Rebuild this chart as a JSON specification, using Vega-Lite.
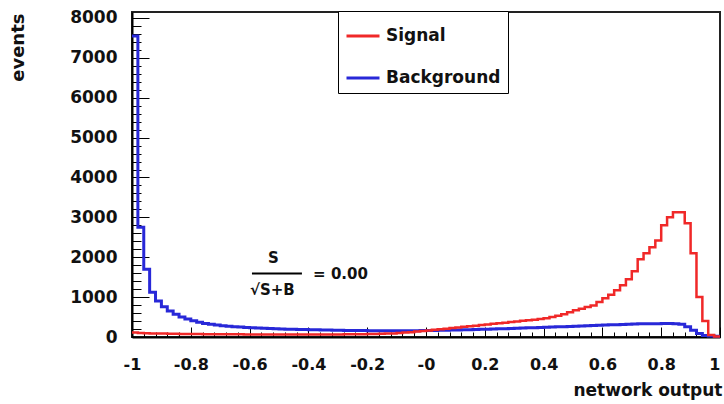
{
  "$schema": "https://vega.github.io/schema/vega-lite/v6.json",
  "width": 588,
  "height": 325,
  "autosize": {"type": "none"},
  "padding": {"left": 132, "top": 12, "right": 4, "bottom": 67},
  "background": "white",
  "config": {
    "view": {"stroke": "#222", "strokeWidth": 2},
    "font": "DejaVu Sans",
    "axis": {"grid": false}
  },
  "datasets": {
    "bins": [
      {"lo": -1, "hi": -0.98, "sig": 110, "bkg": 7550},
      {"lo": -0.98, "hi": -0.96, "sig": 100, "bkg": 2750},
      {"lo": -0.96, "hi": -0.94, "sig": 95, "bkg": 1700},
      {"lo": -0.94, "hi": -0.92, "sig": 90, "bkg": 1120},
      {"lo": -0.92, "hi": -0.9, "sig": 88, "bkg": 900},
      {"lo": -0.9, "hi": -0.88, "sig": 85, "bkg": 760},
      {"lo": -0.88, "hi": -0.86, "sig": 82, "bkg": 650},
      {"lo": -0.86, "hi": -0.84, "sig": 80, "bkg": 570},
      {"lo": -0.84, "hi": -0.82, "sig": 78, "bkg": 500},
      {"lo": -0.82, "hi": -0.8, "sig": 76, "bkg": 450},
      {"lo": -0.8, "hi": -0.78, "sig": 75, "bkg": 410},
      {"lo": -0.78, "hi": -0.76, "sig": 74, "bkg": 370},
      {"lo": -0.76, "hi": -0.74, "sig": 72, "bkg": 340},
      {"lo": -0.74, "hi": -0.72, "sig": 71, "bkg": 320},
      {"lo": -0.72, "hi": -0.7, "sig": 70, "bkg": 300},
      {"lo": -0.7, "hi": -0.68, "sig": 69, "bkg": 285},
      {"lo": -0.68, "hi": -0.66, "sig": 68, "bkg": 270},
      {"lo": -0.66, "hi": -0.64, "sig": 67, "bkg": 260},
      {"lo": -0.64, "hi": -0.62, "sig": 66, "bkg": 250},
      {"lo": -0.62, "hi": -0.6, "sig": 65, "bkg": 240},
      {"lo": -0.6, "hi": -0.58, "sig": 64, "bkg": 232},
      {"lo": -0.58, "hi": -0.56, "sig": 63, "bkg": 225},
      {"lo": -0.56, "hi": -0.54, "sig": 62, "bkg": 218},
      {"lo": -0.54, "hi": -0.52, "sig": 62, "bkg": 212},
      {"lo": -0.52, "hi": -0.5, "sig": 61, "bkg": 206},
      {"lo": -0.5, "hi": -0.48, "sig": 60, "bkg": 200},
      {"lo": -0.48, "hi": -0.46, "sig": 60, "bkg": 196},
      {"lo": -0.46, "hi": -0.44, "sig": 60, "bkg": 192},
      {"lo": -0.44, "hi": -0.42, "sig": 60, "bkg": 188},
      {"lo": -0.42, "hi": -0.4, "sig": 60, "bkg": 185},
      {"lo": -0.4, "hi": -0.38, "sig": 60, "bkg": 182},
      {"lo": -0.38, "hi": -0.36, "sig": 61, "bkg": 179},
      {"lo": -0.36, "hi": -0.34, "sig": 62, "bkg": 176},
      {"lo": -0.34, "hi": -0.32, "sig": 63, "bkg": 173},
      {"lo": -0.32, "hi": -0.3, "sig": 64, "bkg": 170},
      {"lo": -0.3, "hi": -0.28, "sig": 65, "bkg": 168},
      {"lo": -0.28, "hi": -0.26, "sig": 66, "bkg": 166},
      {"lo": -0.26, "hi": -0.24, "sig": 68, "bkg": 164},
      {"lo": -0.24, "hi": -0.22, "sig": 70, "bkg": 162},
      {"lo": -0.22, "hi": -0.2, "sig": 72, "bkg": 160},
      {"lo": -0.2, "hi": -0.18, "sig": 75, "bkg": 158},
      {"lo": -0.18, "hi": -0.16, "sig": 78, "bkg": 157},
      {"lo": -0.16, "hi": -0.14, "sig": 82, "bkg": 156},
      {"lo": -0.14, "hi": -0.12, "sig": 86, "bkg": 155},
      {"lo": -0.12, "hi": -0.1, "sig": 90, "bkg": 155},
      {"lo": -0.1, "hi": -0.08, "sig": 100, "bkg": 155},
      {"lo": -0.08, "hi": -0.06, "sig": 110, "bkg": 155},
      {"lo": -0.06, "hi": -0.04, "sig": 120, "bkg": 156},
      {"lo": -0.04, "hi": -0.02, "sig": 135, "bkg": 158},
      {"lo": -0.02, "hi": 0, "sig": 150, "bkg": 160},
      {"lo": 0, "hi": 0.02, "sig": 165, "bkg": 162},
      {"lo": 0.02, "hi": 0.04, "sig": 180, "bkg": 164},
      {"lo": 0.04, "hi": 0.06, "sig": 195, "bkg": 167},
      {"lo": 0.06, "hi": 0.08, "sig": 210, "bkg": 170},
      {"lo": 0.08, "hi": 0.1, "sig": 225, "bkg": 173},
      {"lo": 0.1, "hi": 0.12, "sig": 240, "bkg": 176},
      {"lo": 0.12, "hi": 0.14, "sig": 255, "bkg": 180},
      {"lo": 0.14, "hi": 0.16, "sig": 270, "bkg": 184},
      {"lo": 0.16, "hi": 0.18, "sig": 285, "bkg": 188},
      {"lo": 0.18, "hi": 0.2, "sig": 300, "bkg": 192},
      {"lo": 0.2, "hi": 0.22, "sig": 315, "bkg": 196},
      {"lo": 0.22, "hi": 0.24, "sig": 330, "bkg": 200},
      {"lo": 0.24, "hi": 0.26, "sig": 345, "bkg": 205},
      {"lo": 0.26, "hi": 0.28, "sig": 360, "bkg": 210},
      {"lo": 0.28, "hi": 0.3, "sig": 375, "bkg": 215},
      {"lo": 0.3, "hi": 0.32, "sig": 390, "bkg": 220},
      {"lo": 0.32, "hi": 0.34, "sig": 405, "bkg": 225},
      {"lo": 0.34, "hi": 0.36, "sig": 420, "bkg": 230},
      {"lo": 0.36, "hi": 0.38, "sig": 435, "bkg": 235},
      {"lo": 0.38, "hi": 0.4, "sig": 450, "bkg": 240},
      {"lo": 0.4, "hi": 0.42, "sig": 470, "bkg": 245},
      {"lo": 0.42, "hi": 0.44, "sig": 500, "bkg": 250},
      {"lo": 0.44, "hi": 0.46, "sig": 530, "bkg": 255},
      {"lo": 0.46, "hi": 0.48, "sig": 570, "bkg": 260},
      {"lo": 0.48, "hi": 0.5, "sig": 620, "bkg": 265},
      {"lo": 0.5, "hi": 0.52, "sig": 670, "bkg": 270},
      {"lo": 0.52, "hi": 0.54, "sig": 710, "bkg": 275},
      {"lo": 0.54, "hi": 0.56, "sig": 750, "bkg": 280},
      {"lo": 0.56, "hi": 0.58, "sig": 790, "bkg": 290},
      {"lo": 0.58, "hi": 0.6, "sig": 880, "bkg": 295},
      {"lo": 0.6, "hi": 0.62, "sig": 970, "bkg": 300},
      {"lo": 0.62, "hi": 0.64, "sig": 1060, "bkg": 305},
      {"lo": 0.64, "hi": 0.66, "sig": 1170, "bkg": 310},
      {"lo": 0.66, "hi": 0.68, "sig": 1300, "bkg": 315},
      {"lo": 0.68, "hi": 0.7, "sig": 1450, "bkg": 320},
      {"lo": 0.7, "hi": 0.72, "sig": 1650, "bkg": 325},
      {"lo": 0.72, "hi": 0.74, "sig": 1950, "bkg": 330},
      {"lo": 0.74, "hi": 0.76, "sig": 2100, "bkg": 330},
      {"lo": 0.76, "hi": 0.78, "sig": 2250, "bkg": 335},
      {"lo": 0.78, "hi": 0.8, "sig": 2420, "bkg": 335},
      {"lo": 0.8, "hi": 0.82, "sig": 2800, "bkg": 340},
      {"lo": 0.82, "hi": 0.84, "sig": 3000, "bkg": 340},
      {"lo": 0.84, "hi": 0.86, "sig": 3130, "bkg": 335},
      {"lo": 0.86, "hi": 0.88, "sig": 3130, "bkg": 320},
      {"lo": 0.88, "hi": 0.9, "sig": 2850, "bkg": 260},
      {"lo": 0.9, "hi": 0.92, "sig": 2100, "bkg": 170},
      {"lo": 0.92, "hi": 0.94, "sig": 1000, "bkg": 90},
      {"lo": 0.94, "hi": 0.96, "sig": 400, "bkg": 40},
      {"lo": 0.96, "hi": 0.98, "sig": 50, "bkg": 25},
      {"lo": 0.98, "hi": 1, "sig": 10, "bkg": 20}
    ],
    "note": [
      {"x": -0.537, "y": 1980, "t": "S"},
      {"x": -0.599, "y": 1178, "t": "√S+B"},
      {"x": -0.384, "y": 1590, "t": "= 0.00"}
    ],
    "bar": [
      {"x": -0.592, "x2": -0.422, "y": 1590}
    ]
  },
  "layer": [
    {
      "data": {"name": "bins"},
      "transform": [{"fold": ["lo", "hi"], "as": ["edge", "xpos"]}],
      "mark": {"type": "line", "strokeWidth": 3},
      "encoding": {
        "x": {
          "field": "xpos", "type": "quantitative",
          "scale": {"domain": [-1, 1], "nice": false, "zero": false},
          "axis": {
            "orient": "bottom",
            "values": [-1, -0.8, -0.6, -0.4, -0.2, 0, 0.2, 0.4, 0.6, 0.8, 1],
            "labelExpr": "datum.value == 0 ? '-0' : '' + datum.value",
            "labelAlign": {"condition": {"test": "datum.value == 1", "value": "right"}, "value": "center"},
            "tickSize": -10, "tickColor": "#000", "tickWidth": 1,
            "domainColor": "#000", "domainWidth": 2,
            "labelFontSize": 16, "labelFontWeight": "bold", "labelColor": "#111", "labelPadding": 37,
            "labelBaseline": "middle", "labelFlush": false, "labelOverlap": false,
            "title": "network output", "titleFontSize": 17, "titleFontWeight": "bold",
            "titleColor": "#111", "titleAlign": "right", "titleX": 590, "titleY": 53,
            "titleBaseline": "middle"
          }
        },
        "y": {
          "field": "bkg", "type": "quantitative",
          "scale": {"domain": [0, 8150], "nice": false},
          "axis": {
            "orient": "left",
            "values": [0, 1000, 2000, 3000, 4000, 5000, 6000, 7000, 8000],
            "format": "d",
            "tickSize": -17, "tickColor": "#000", "tickWidth": 1,
            "domainColor": "#000", "domainWidth": 2,
            "labelFontSize": 17, "labelFontWeight": "bold", "labelColor": "#111", "labelPadding": 32,
            "labelOverlap": false,
            "title": "events", "titleFontSize": 18, "titleFontWeight": "bold",
            "titleColor": "#111", "titleAngle": -90, "titleAlign": "right",
            "titleBaseline": "middle", "titleX": -114, "titleY": 1
          }
        },
        "order": [
          {"field": "lo", "type": "quantitative"},
          {"field": "xpos", "type": "quantitative"}
        ],
        "color": {
          "datum": "Background", "type": "nominal",
          "scale": {"domain": ["Signal", "Background"], "range": ["#f02828", "#2828d8"]},
          "legend": {
            "orient": "none", "legendX": 206, "legendY": -1, "title": null,
            "strokeColor": "#000", "fillColor": "#fff", "padding": 7,
            "symbolType": "stroke", "symbolSize": 1089, "symbolStrokeWidth": 3,
            "labelFontSize": 17, "labelFontWeight": "bold", "labelColor": "#111", "labelOffset": 5,
            "rowPadding": 16, "cornerRadius": 0
          }
        }
      }
    },
    {
      "data": {"name": "bins"},
      "transform": [{"fold": ["lo", "hi"], "as": ["edge", "xpos"]}],
      "mark": {"type": "line", "strokeWidth": 2.5},
      "encoding": {
        "x": {
          "field": "xpos", "type": "quantitative",
          "axis": {
            "orient": "bottom",
            "values": [-0.96, -0.92, -0.88, -0.84, -0.76, -0.72, -0.68, -0.64, -0.56, -0.52, -0.48, -0.44, -0.36, -0.32, -0.28, -0.24, -0.16, -0.12, -0.08, -0.04, 0.04, 0.08, 0.12, 0.16, 0.24, 0.28, 0.32, 0.36, 0.44, 0.48, 0.52, 0.56, 0.64, 0.68, 0.72, 0.76, 0.84, 0.88, 0.92, 0.96],
            "labels": false, "domain": false, "tickSize": -5, "tickColor": "#000",
            "title": null
          }
        },
        "y": {
          "field": "sig", "type": "quantitative",
          "axis": {
            "orient": "left",
            "values": [200, 400, 600, 800, 1200, 1400, 1600, 1800, 2200, 2400, 2600, 2800, 3200, 3400, 3600, 3800, 4200, 4400, 4600, 4800, 5200, 5400, 5600, 5800, 6200, 6400, 6600, 6800, 7200, 7400, 7600, 7800],
            "labels": false, "domain": false, "tickSize": -9, "tickColor": "#000",
            "title": null
          }
        },
        "order": [
          {"field": "lo", "type": "quantitative"},
          {"field": "xpos", "type": "quantitative"}
        ],
        "color": {"datum": "Signal", "type": "nominal"}
      }
    },
    {
      "data": {"name": "note"},
      "mark": {"type": "text", "align": "left", "baseline": "middle", "fontSize": 15, "fontWeight": "bold", "color": "#111"},
      "encoding": {
        "x": {"field": "x", "type": "quantitative", "axis": null},
        "y": {"field": "y", "type": "quantitative", "axis": null},
        "text": {"field": "t"}
      }
    },
    {
      "data": {"name": "bar"},
      "mark": {"type": "rule", "color": "#000", "strokeWidth": 2},
      "encoding": {
        "x": {"field": "x", "type": "quantitative", "axis": null},
        "x2": {"field": "x2"},
        "y": {"field": "y", "type": "quantitative", "axis": null}
      }
    }
  ],
  "resolve": {"axis": {"x": "independent", "y": "independent"}}
}
